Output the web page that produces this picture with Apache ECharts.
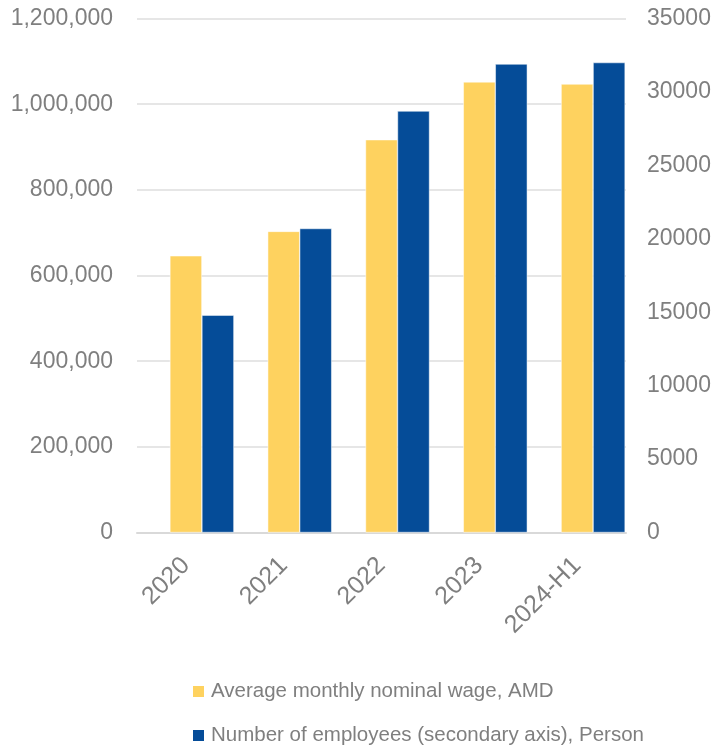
<!DOCTYPE html>
<html>
<head>
<meta charset="utf-8">
<script src="https://cdn.jsdelivr.net/npm/echarts@6/dist/echarts.min.js"></script>
<style>
  html, body { margin: 0; padding: 0; background: #ffffff; }
  #chart { width: 716px; height: 748px; }
</style>
</head>
<body>
<div id="chart"></div>
<script>
// Wages and headcount by period
const categories = ['2020', '2021', '2022', '2023', '2024-H1'];
const wageAMD = [646000, 703000, 917000, 1052000, 1047000];
const employees = [14800, 20700, 28700, 31900, 32000];
const wageTicks = [0, 200000, 400000, 600000, 800000, 1000000, 1200000];
const employeeTicks = [0, 5000, 10000, 15000, 20000, 25000, 30000, 35000];

const WAGE_NAME = 'Average monthly nominal wage, AMD';
const EMP_NAME = 'Number of employees (secondary axis), Person';

const FONT = '"Liberation Sans", Arial, sans-serif';
const GREY = '#7f7f7f';
const BAR_W = 32;

const legendText = { color: GREY, fontSize: 20.5, fontFamily: FONT, padding: [0, 0, 0, 1] };
const legendBase = {
  orient: 'vertical',
  left: 186,
  itemWidth: 13,
  itemHeight: 13,
  icon: 'rect',
  textStyle: legendText
};

const chart = echarts.init(document.getElementById('chart'), null, { renderer: 'canvas' });

chart.setOption({
  animation: false,
  backgroundColor: '#ffffff',
  textStyle: { fontFamily: FONT },
  grid: { left: 137, right: 90, top: 18.5, bottom: 215.5, containLabel: false },
  legend: [
    Object.assign({}, legendBase, { top: 676, data: [WAGE_NAME] }),
    Object.assign({}, legendBase, { top: 720, data: [EMP_NAME] })
  ],
  xAxis: {
    type: 'category',
    data: categories,
    axisTick: { show: false },
    axisLine: { lineStyle: { color: '#d9d9d9', width: 2 } },
    axisLabel: { color: GREY, fontSize: 25, fontFamily: FONT, rotate: 45, margin: 29, interval: 0 }
  },
  yAxis: [
    {
      type: 'value',
      min: wageTicks[0],
      max: wageTicks[wageTicks.length - 1],
      interval: wageTicks[1] - wageTicks[0],
      axisLine: { show: false },
      axisTick: { show: false },
      splitLine: { lineStyle: { color: '#dedede', width: 1.5 } },
      axisLabel: {
        color: GREY, fontSize: 23, fontFamily: FONT, margin: 24,
        formatter: v => v.toLocaleString('en-US')
      }
    },
    {
      type: 'value',
      min: employeeTicks[0],
      max: employeeTicks[employeeTicks.length - 1],
      interval: employeeTicks[1] - employeeTicks[0],
      position: 'right',
      axisLine: { show: false },
      axisTick: { show: false },
      splitLine: { show: false },
      axisLabel: { color: GREY, fontSize: 23, fontFamily: FONT, margin: 21, formatter: v => String(v) }
    }
  ],
  series: [
    {
      // empty slot on the left of each pair, so the two bars sit right of the category centre
      name: 'slot',
      type: 'bar',
      yAxisIndex: 0,
      data: [],
      barWidth: BAR_W,
      barGap: '0%'
    },
    {
      name: WAGE_NAME,
      type: 'bar',
      yAxisIndex: 0,
      data: wageAMD,
      barWidth: BAR_W,
      barGap: '0%',
      itemStyle: { color: '#fed25f', borderColor: '#ffffff', borderWidth: 0.5 }
    },
    {
      name: EMP_NAME,
      type: 'bar',
      yAxisIndex: 1,
      data: employees,
      barWidth: BAR_W,
      barGap: '0%',
      itemStyle: { color: '#054c98', borderColor: '#ffffff', borderWidth: 0.5 }
    }
  ]
});
</script>
</body>
</html>
